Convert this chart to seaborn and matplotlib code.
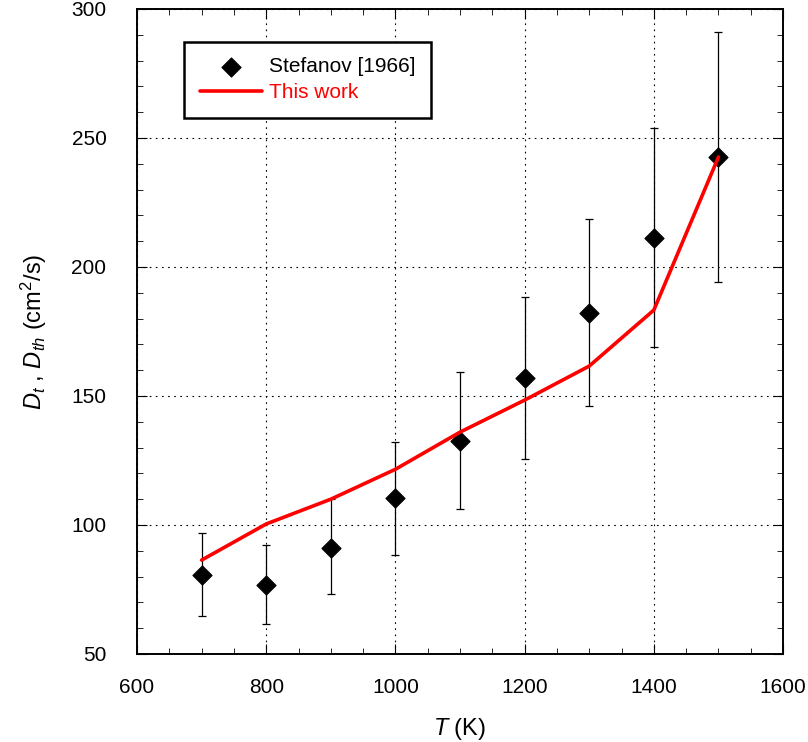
import numpy as np
import pandas as pd
import matplotlib
matplotlib.use("Agg")
import matplotlib.pyplot as plt
import seaborn as sns
from matplotlib.ticker import MultipleLocator

sns.set_style("ticks")
plt.rcParams['font.family'] = ['Liberation Sans', 'DejaVu Sans']
plt.rcParams['mathtext.fontset'] = 'custom'
plt.rcParams['mathtext.rm'] = 'Liberation Sans'
plt.rcParams['mathtext.it'] = 'Liberation Sans:italic'
plt.rcParams['text.color'] = 'black'
plt.rcParams['axes.labelcolor'] = 'black'

# данные Стефанова (с погрешностями)
T_exp = [700, 800, 900, 1000, 1100, 1200, 1300, 1400, 1500]
D_exp = [80.6, 76.7, 91.1, 110.3, 132.6, 157.0, 182.2, 211.2, 242.5]
D_hi = [96.8, 92.2, 110.1, 132.3, 159.3, 188.4, 218.6, 253.9, 291.0]
D_lo = [64.7, 61.6, 73.3, 88.4, 106.1, 125.6, 146.1, 169.1, 194.2]

# расчёт "This work"
T_calc = [700, 800, 900, 1000, 1100, 1200, 1300, 1400, 1500]
D_calc = [86.4, 100.4, 110.0, 121.6, 136.0, 148.4, 161.6, 183.3, 242.6]

exp = pd.DataFrame({'T': T_exp, 'D': D_exp, 'hi': D_hi, 'lo': D_lo})
calc = pd.DataFrame({'T': T_calc, 'D': D_calc})

fig = plt.figure(figsize=(8.08, 7.42), dpi=100)
ax = fig.add_axes([0.1696, 0.1186, 0.7995, 0.8693])

yerr = np.array([exp['D'] - exp['lo'], exp['hi'] - exp['D']])
ax.errorbar(exp['T'], exp['D'], yerr=yerr, fmt='none', ecolor='black',
            elinewidth=0.9, capsize=3, capthick=0.9, zorder=3)
sns.scatterplot(data=exp, x='T', y='D', marker='D', s=95, color='black',
                edgecolor='black', ax=ax, label='Stefanov [1966]', zorder=4)
sns.lineplot(data=calc, x='T', y='D', color='red', lw=2.6, ax=ax,
             label='This work', zorder=5)

ax.set_xlim(600, 1600)
ax.set_ylim(50, 300)
ax.xaxis.set_major_locator(MultipleLocator(200))
ax.xaxis.set_minor_locator(MultipleLocator(50))
ax.yaxis.set_major_locator(MultipleLocator(50))
ax.yaxis.set_minor_locator(MultipleLocator(10))
ax.tick_params(which='both', direction='in', top=True, right=True,
               labelsize=15, colors='black', labelcolor='black')
ax.tick_params(axis='x', which='major', length=7, width=0.8, pad=17)
ax.tick_params(axis='y', which='major', length=7, width=0.8, pad=22)
ax.tick_params(which='minor', length=4, width=0.6)
ax.grid(True, which='major', color='black', linestyle=(0, (1.5, 4)), lw=0.8)
for s in ax.spines.values():
    s.set_color('black')
    s.set_linewidth(1.4)

ax.set_xlabel(r'$T$ (K)', fontsize=17, labelpad=14)
ax.set_ylabel(r'$D_t$ , $D_{th}$ (cm$^2$/s)', fontsize=17, labelpad=16)

leg = ax.legend(loc='upper left', bbox_to_anchor=(0.073, 0.949), borderaxespad=0,
                fontsize=15, frameon=True, fancybox=False, handlelength=3.0,
                handletextpad=0.3, borderpad=0.75, labelspacing=0.32)
leg.get_frame().set_edgecolor('black')
leg.get_frame().set_linewidth(1.8)
leg.get_frame().set_alpha(1)
leg.get_texts()[0].set_color('black')
leg.get_texts()[1].set_color('red')

fig.savefig('out.png', dpi=100)
